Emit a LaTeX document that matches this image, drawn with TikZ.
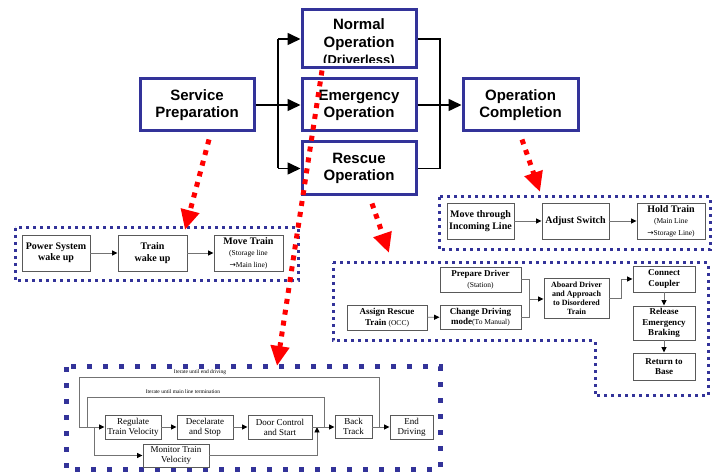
\documentclass[tikz,border=0pt]{standalone}
\usepackage{fontspec}
\setmainfont{Liberation Serif}
\newfontfamily\hsans{Liberation Sans}
\newfontfamily\symf{DejaVu Sans}
\usetikzlibrary{arrows.meta,calc}
\definecolor{bxblue}{HTML}{333399}
\definecolor{dotblue}{HTML}{333399}
\newcommand{\pf}{\mdseries\fontsize{7.5}{8.5}\selectfont}
\begin{document}
\begin{tikzpicture}[x=1pt,y=-1pt,
 mainbox/.style={draw=bxblue, line width=3pt, fill=white, minimum width=114pt, minimum height=52pt, inner sep=0pt, align=center, font=\hsans\bfseries\fontsize{15}{17}\selectfont},
 maintext/.style={inner sep=0pt, anchor=base, font=\hsans\bfseries\fontsize{15}{17}\selectfont},
 tl/.style={draw=black, line width=1.6pt},
 ta/.style={tl, -{Triangle[length=13pt,width=12pt]}},
 dotbox/.style={draw=dotblue, line width=3pt, dash pattern=on 3pt off 4pt},
 bigdot/.style={draw=dotblue, line width=5pt, dash pattern=on 5pt off 11pt},
 reddot/.style={draw=red, line width=5pt, dash pattern=on 5pt off 6pt, -{Triangle[length=20pt,width=18pt]}},
 sb/.style={draw=black!65, line width=0.9pt, fill=white, inner sep=1pt, align=center, font=\bfseries\fontsize{10}{11.5}\selectfont},
 sbt/.style={sb, font=\bfseries\fontsize{9}{10.5}\selectfont},
 sbr/.style={sb, font=\fontsize{9}{10}\selectfont},
 ln/.style={draw=black!55, line width=0.9pt},
 arr/.style={ln, -{Triangle[length=5.5pt,width=5pt,color=black]}},
 lbl/.style={inner sep=0pt, font=\fontsize{5.5}{6}\selectfont}
]
\useasboundingbox (0,0) rectangle (716,473);

% ---------- top level ----------
\node[mainbox] (service) at (197,105) {Service\\Preparation};
\node[mainbox, minimum height=58pt] (normal) at (359,39) {};
\node[maintext] (nt1) at (359,30) {Normal};
\node[maintext] (nt2) at (359,47.5) {Operation};
\begin{scope}
\clip (302,11) rectangle (416,62.5);
\node[maintext, font=\hsans\bfseries\fontsize{13}{15}\selectfont] (nt3) at (359,64.5) {(Driverless)};
\end{scope}
\node[mainbox] (emerg) at (359,105) {Emergency\\Operation};
\node[mainbox, minimum height=53pt] (rescue) at (359,168.5) {Rescue\\Operation};
\node[mainbox, minimum width=115pt] (compl) at (520.5,105) {Operation\\Completion};

\coordinate (jl) at (278,105);
\coordinate (jr) at (440,105);
\draw[tl] (service.east) -- (jl);
\draw[tl] (jl |- normal.west) -- (jl |- rescue.west);
\draw[ta] (jl |- normal.west) -- (normal.west);
\draw[ta] (jl) -- (emerg.west);
\draw[ta] (jl |- rescue.west) -- (rescue.west);
\draw[tl] (normal.east) -- (jr |- normal.east) -- (jr |- rescue.east) -- (rescue.east);
\draw[ta] (emerg.east) -- (compl.west);

% ---------- service preparation detail ----------
\draw[dotbox] (15,228) rectangle (298,281);
\node[sb, minimum width=68pt, minimum height=36pt] (pw) at (56,253) {Power System\\wake up};
\node[sb, minimum width=69pt, minimum height=36pt] (tw) at (152.5,253) {Train\\wake up};
\node[sb, minimum width=69pt, minimum height=36pt] (mv) at (248.5,253) {Move Train\\{\pf (Storage line}\\{\pf\symf →}{\pf Main line)}};
\draw[arr] (pw) -- (tw);
\draw[arr] (tw) -- (mv);

% ---------- operation completion detail ----------
\draw[dotbox] (439,197) rectangle (710,250);
\node[sb, minimum width=67pt, minimum height=36pt] (mtl) at (480.5,221) {Move through\\Incoming Line};
\node[sb, minimum width=67pt, minimum height=36pt] (adj) at (575.5,221) {Adjust Switch};
\node[sb, minimum width=68pt, minimum height=36pt] (hold) at (671,221) {Hold Train\\{\pf (Main Line}\\{\pf\symf →}{\pf Storage Line)}};
\draw[arr] (mtl) -- (adj);
\draw[arr] (adj) -- (hold);

% ---------- rescue operation detail ----------
\draw[dotbox] (333,263) -- (708,263) -- (708,396) -- (595,396) -- (595,341) -- (333,341) -- cycle;
\node[sbt, minimum width=81pt, minimum height=25pt] (prep) at (480.5,279.5) {Prepare Driver\\{\pf (Station)}};
\node[sbt, minimum width=80pt, minimum height=25pt] (assign) at (387,317.5) {Assign Rescue\\Train {\pf (OCC)}};
\node[sbt, minimum width=81pt, minimum height=24pt] (change) at (480.5,317) {Change Driving\\mode{\pf (To Manual)}};
\node[sb, font=\bfseries\fontsize{8}{9}\selectfont, minimum width=65pt, minimum height=40pt] (aboard) at (576.5,298) {Aboard Driver\\and Approach\\to Disordered\\Train};
\node[sbt, minimum width=62pt, minimum height=26pt] (connect) at (664,279) {Connect\\Coupler};
\node[sbt, minimum width=62pt, minimum height=34pt] (release) at (664,323) {Release\\Emergency\\Braking};
\node[sbt, minimum width=62pt, minimum height=27pt] (return) at (664,366.5) {Return to\\Base};
\coordinate (rj1) at (529,299);
\coordinate (rj2) at (621,298);
\draw[arr] (assign) -- (change);
\draw[ln] (prep.east) -- (rj1 |- prep.east) -- (rj1 |- change.east) -- (change.east);
\draw[arr] (rj1) -- (rj1 -| aboard.west);
\draw[arr] (aboard.east) -- (rj2) -- (rj2 |- connect.west) -- (connect.west);
\draw[arr] (connect) -- (release);
\draw[arr] (release) -- (return);

% ---------- normal operation detail ----------
\draw[bigdot] (66,367) rectangle (440,470);
\node[sbr, minimum width=56pt, minimum height=24pt] (reg) at (133,427) {Regulate\\Train Velocity};
\node[sbr, minimum width=56pt, minimum height=24pt] (dec) at (205,427) {Decelarate\\and Stop};
\node[sbr, minimum width=64pt, minimum height=24pt] (door) at (280,427) {Door Control\\and Start};
\node[sbr, minimum width=37pt, minimum height=23pt] (back) at (353.5,426.5) {Back\\Track};
\node[sbr, minimum width=43pt, minimum height=24pt] (endd) at (411.5,427) {End\\Driving};
\node[sbr, minimum width=66pt, minimum height=23pt] (mon) at (176,455.5) {Monitor Train\\Velocity};
\coordinate (o1) at (79,427);
\coordinate (o2) at (379,377);
\coordinate (i1) at (87,427);
\coordinate (i2) at (324,397);
\coordinate (b1) at (94,427);
\coordinate (m1) at (317,427);
\draw[ln] (o1 |- o2) -- (o2) -- (o2 |- endd.west);
\draw[ln] (o1 |- o2) -- (o1);
\draw[ln] (i1 |- i2) -- (i2) -- (i2 |- door.east);
\draw[ln] (i1 |- i2) -- (i1);
\draw[arr] (o1) -- (reg.west);
\draw[arr] (b1) -- (b1 |- mon.west) -- (mon.west);
\draw[arr] (mon.east) -- (m1 |- mon.east) -- (m1);
\draw[arr] (reg) -- (dec);
\draw[arr] (dec) -- (door);
\draw[arr] (door.east) -- (back.west |- door.east);
\draw[arr] (back.east |- endd.west) -- (endd.west);
\node[lbl] (l1) at (200,372) {Iterate until end driving};
\node[lbl] (l2) at (183,392) {Iterate until main line termination};

% ---------- red links ----------
\coordinate (r1) at (185,230);
\coordinate (r2) at (277,366);
\coordinate (r3) at (389,253);
\coordinate (r4) at (540,192);
\draw[reddot] ([xshift=12pt,yshift=-7pt]service.south) -- (r1);
\draw[reddot] ([xshift=-37pt,yshift=-1pt]normal.south) -- (r2);
\draw[reddot] ([xshift=13pt,yshift=-7pt]rescue.south) -- (r3);
\draw[reddot] ([xshift=1.5pt,yshift=-7pt]compl.south) -- (r4);
\end{tikzpicture}
\end{document}
